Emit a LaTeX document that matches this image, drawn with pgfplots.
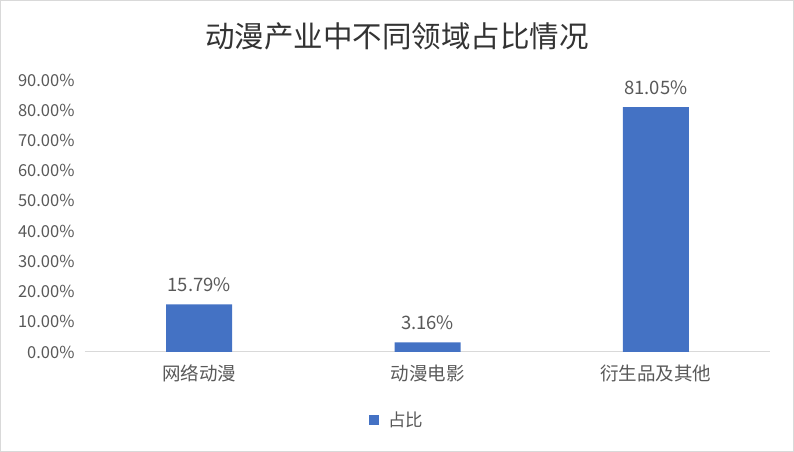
\documentclass[border=0pt]{standalone}
\usepackage{pgfplots}
\pgfplotsset{compat=1.18}
\usepackage{fontspec}
\setmainfont{Noto Sans CJK SC}
\definecolor{barblue}{HTML}{4472C4}
\definecolor{txtgray}{HTML}{595959}
\definecolor{linegray}{HTML}{D9D9D9}

\begin{document}
\begin{tikzpicture}
\begin{axis}[
	scale only axis,
	width=685bp, height=272bp,
	xmin=-0.5, xmax=2.5,
	ymin=0, ymax=90,
	xtick={0,1,2},
	xticklabels={网络动漫,动漫电影,衍生品及其他},
	ytick={0,10,...,90},
	yticklabels={0.00\%,10.00\%,20.00\%,30.00\%,40.00\%,50.00\%,60.00\%,70.00\%,80.00\%,90.00\%},
	/pgf/number format/assume math mode=true,
	axis x line=bottom, axis y line=left,
	x axis line style={linegray, line width=1bp, -},
	y axis line style={draw=none},
	major tick length=0pt,
	tick style={draw=none},
	xticklabel style={font=\fontsize{18.5bp}{20bp}\selectfont, text=txtgray, yshift=-9bp},
	yticklabel style={font=\fontsize{16.5bp}{18bp}\selectfont, text=txtgray, xshift=-7bp},
	title={动漫产业中不同领域占比情况},
	title style={at={(0.4555,1)}, anchor=center, yshift=38bp,
		font=\fontsize{29.5bp}{31bp}\selectfont, text=black!80},
	ybar, bar width=66bp,
	nodes near coords={\pgfmathprintnumber[fixed,fixed zerofill,precision=2]{\pgfplotspointmeta}\%},
	every node near coord/.append style={font=\fontsize{18.5bp}{20bp}\selectfont, text=txtgray, yshift=9bp},
	legend style={at={(0.4555,-0.25)}, anchor=center, draw=none,
		font=\fontsize{17.5bp}{19bp}\selectfont, text=txtgray},
	legend image code/.code={\fill[barblue] (0bp,-5bp) rectangle (10bp,5bp); \path (17bp,0bp);},
	clip=false,
]
\addplot[fill=barblue, draw=none] coordinates {(0,15.79) (1,3.16) (2,81.05)};
\addlegendentry{占比}
% outer frame of the chart area
\draw[linegray, line width=1bp]
	([xshift=-84.5bp,yshift=-99.5bp]rel axis cs:0,0) rectangle
	([xshift=23.5bp,yshift=79.5bp]rel axis cs:1,1);
\end{axis}
\end{tikzpicture}
\end{document}
